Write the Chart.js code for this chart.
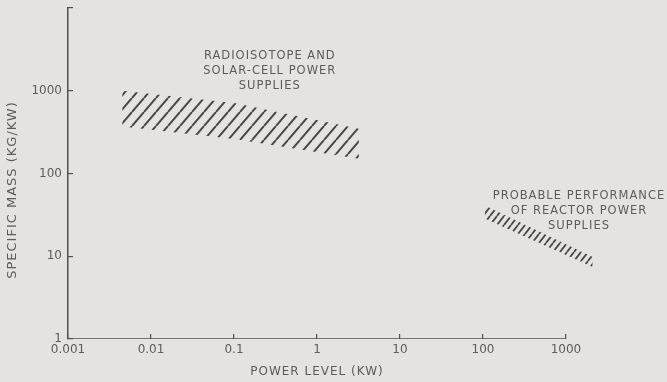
<!DOCTYPE html>
<html>
<head>
<meta charset="utf-8">
<script src="https://cdn.jsdelivr.net/npm/chart.js@4.4.1/dist/chart.umd.min.js"></script>
<style>
html, body { margin: 0; padding: 0; background: #e4e3df; }
</style>
</head>
<body>
<canvas id="chart" width="667" height="382"></canvas>
<script>
// -------- data --------

// radioisotope / solar-cell band (power kW, specific mass kg/kW)
const isoX = [0.0045, 0.1, 3.2];
const isoUpper = [1000, 710, 348];
const isoLower = [370, 262, 151];

// reactor band
const reactorX = [105, 2100];
const reactorUpper = [41, 9.8];
const reactorLower = [28.6, 7.4];

const xTicks = [0.001, 0.01, 0.1, 1, 10, 100, 1000];
const xTickLabels = ["0.001", "0.01", "0.1", "1", "10", "100", "1000"];
const yTicks = [1, 10, 100, 1000, 10000];
const yTickLabels = ["1", "10", "100", "1000", ""];

const isoText = ["RADIOISOTOPE AND", "SOLAR-CELL POWER", "SUPPLIES"];
const reactorText = ["PROBABLE PERFORMANCE", "OF REACTOR POWER", "SUPPLIES"];

// x axis line only runs to the last tick
const axisX = [0.001, 1000];
const axisY = [1, 1];

const toPoints = (xs, ys) => xs.map((x, i) => ({ x: x, y: ys[i] }));

// diagonal hatch pattern
function hatch(w, h, lw, color) {
  const c = document.createElement("canvas");
  c.width = w;
  c.height = h;
  const g = c.getContext("2d");
  g.strokeStyle = color;
  g.lineWidth = lw;
  g.beginPath();
  for (let k = -1; k <= 1; k++) {
    g.moveTo(k * w, h);
    g.lineTo(k * w + w, 0);
  }
  g.stroke();
  return g.createPattern(c, "repeat");
}

const ink = "#5c5c5c";
const bg = "#e4e3df";

const background = {
  id: "background",
  beforeDraw(chart) {
    const ctx = chart.ctx;
    ctx.save();
    ctx.fillStyle = bg;
    ctx.fillRect(0, 0, chart.width, chart.height);
    ctx.restore();
  }
};

// labels on the plot + axis titles
const labels = {
  id: "labels",
  afterDraw(chart) {
    const ctx = chart.ctx;
    const xs = chart.scales.x;
    const ys = chart.scales.y;
    ctx.save();
    ctx.fillStyle = ink;
    ctx.textAlign = "center";
    ctx.textBaseline = "middle";
    ctx.letterSpacing = "1px";
    ctx.font = "11.5px 'DejaVu Sans'";

    const notes = [
      { lines: isoText, x: 0.27, y: 2650 },
      { lines: reactorText, x: 1435, y: 54 }
    ];
    notes.forEach(n => {
      const px = xs.getPixelForValue(n.x);
      const py = ys.getPixelForValue(n.y);
      n.lines.forEach((t, i) => ctx.fillText(t, px, py + i * 15));
    });

    ctx.font = "12px 'DejaVu Sans'";
    ctx.fillText("POWER LEVEL (KW)", 317, 372);

    ctx.font = "13px 'DejaVu Sans'";
    ctx.translate(13, 190);
    ctx.rotate(-Math.PI / 2);
    ctx.fillText("SPECIFIC MASS (KG/KW)", 0, 0);
    ctx.restore();
  }
};

const hatchBig = hatch(12, 14, 2, "#474747");
const hatchSmall = hatch(7, 9, 1.8, "#474747");

new Chart(document.getElementById("chart"), {
  type: "line",
  data: {
    datasets: [
      {
        data: toPoints(isoX, isoLower),
        borderColor: "transparent",
        pointRadius: 0,
        fill: false
      },
      {
        data: toPoints(isoX, isoUpper),
        borderColor: "transparent",
        backgroundColor: hatchBig,
        pointRadius: 0,
        fill: "-1"
      },
      {
        data: toPoints(reactorX, reactorLower),
        borderColor: "transparent",
        pointRadius: 0,
        fill: false
      },
      {
        data: toPoints(reactorX, reactorUpper),
        borderColor: "transparent",
        backgroundColor: hatchSmall,
        pointRadius: 0,
        fill: "-1"
      },
      {
        data: toPoints(axisX, axisY),
        borderColor: "#505050",
        borderWidth: 1.5,
        pointRadius: 0,
        fill: false
      }
    ]
  },
  options: {
    responsive: false,
    animation: false,
    layout: { padding: { top: 8, right: 68, left: 0, bottom: 0 } },
    plugins: {
      legend: { display: false },
      tooltip: { enabled: false }
    },
    scales: {
      x: {
        type: "logarithmic",
        min: 0.001,
        max: 2500,
        afterBuildTicks: s => { s.ticks = xTicks.map(v => ({ value: v })); },
        afterFit: s => { s.height = 43; s.paddingLeft = 0; s.paddingRight = 0; },
        border: { display: false },
        grid: {
          drawOnChartArea: false,
          drawTicks: true,
          tickLength: -5,
          color: "#505050",
          lineWidth: 1.2
        },
        ticks: {
          autoSkip: false,
          maxRotation: 0,
          padding: 9,
          color: ink,
          font: { family: "DejaVu Sans", size: 12 },
          callback: (v, i) => xTickLabels[i]
        }
      },
      y: {
        type: "logarithmic",
        min: 1,
        max: 10000,
        afterBuildTicks: s => { s.ticks = yTicks.map(v => ({ value: v })); },
        afterFit: s => { s.width = 68; s.paddingTop = 0; s.paddingBottom = 0; },
        border: { display: true, color: "#505050", width: 1.5 },
        grid: {
          drawOnChartArea: false,
          drawTicks: true,
          tickLength: -5,
          color: "#505050",
          lineWidth: 1.2
        },
        ticks: {
          autoSkip: false,
          padding: 11,
          color: ink,
          font: { family: "DejaVu Sans", size: 12 },
          callback: (v, i) => yTickLabels[i]
        }
      }
    }
  },
  plugins: [background, labels]
});
</script>
</body>
</html>
